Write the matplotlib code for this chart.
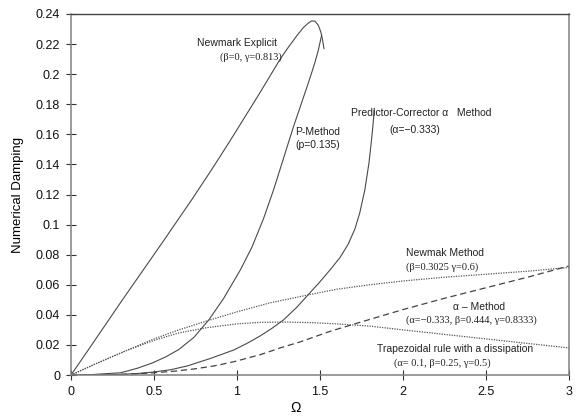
import matplotlib
matplotlib.use("Agg")
import matplotlib.pyplot as plt
from matplotlib.ticker import FixedLocator

# ---- data -----------------------------------------------------------------
# Newmark explicit (solid)
nme_omega = [0, 0.1, 0.31, 0.55, 0.73, 0.85, 0.96, 1.05, 1.14, 1.2, 1.26, 1.31, 1.36,
             1.40, 1.43, 1.45, 1.47, 1.49, 1.505, 1.515, 1.524]
nme_damp = [0, 0.016, 0.050, 0.088, 0.117, 0.137, 0.156, 0.172, 0.188, 0.199, 0.210, 0.218,
            0.2255, 0.231, 0.234, 0.2354, 0.2352, 0.2325, 0.228, 0.223, 0.217]

# P-method (solid)
pm_omega = [0, 0.1, 0.3, 0.4, 0.49, 0.57, 0.65, 0.74, 0.83, 0.92, 1.02, 1.09, 1.16, 1.22,
            1.28, 1.34, 1.38, 1.42, 1.45, 1.47, 1.49, 1.50, 1.51]
pm_damp = [0, 0.0001, 0.0015, 0.0045, 0.008, 0.012, 0.017, 0.025, 0.0366, 0.051, 0.0698,
           0.085, 0.104, 0.123, 0.144, 0.165, 0.178, 0.191, 0.201, 0.208, 0.216, 0.221, 0.226]

# Predictor-corrector alpha method (solid)
pc_omega = [0, 0.2, 0.3, 0.4, 0.5, 0.6, 0.7, 0.84, 0.98, 1.06, 1.14, 1.21, 1.28, 1.36, 1.44,
            1.50, 1.56, 1.62, 1.67, 1.71, 1.74, 1.77, 1.795, 1.81, 1.82, 1.827]
pc_damp = [0, 0.0001, 0.0004, 0.001, 0.002, 0.0035, 0.006, 0.011, 0.0166, 0.021, 0.026,
           0.031, 0.0366, 0.045, 0.0547, 0.062, 0.0698, 0.078, 0.087, 0.097, 0.108, 0.123,
           0.141, 0.156, 0.167, 0.177]

# Newmark method (dotted)
nm_omega = [0, 0.15, 0.34, 0.5, 0.65, 0.82, 1.0, 1.2, 1.44, 1.6, 1.8, 2.0, 2.25, 2.5, 2.75, 3.0]
nm_damp = [0, 0.0075, 0.0166, 0.024, 0.030, 0.036, 0.042, 0.048, 0.0535, 0.057, 0.060,
           0.0625, 0.065, 0.067, 0.069, 0.0715]

# alpha method (dashed)
am_omega = [0, 0.2, 0.4, 0.5, 0.62, 0.74, 0.86, 0.98, 1.14, 1.26, 1.38, 1.56, 1.74, 2.0,
            2.25, 2.5, 2.75, 3.0]
am_damp = [0, 0.0001, 0.0008, 0.0015, 0.0025, 0.004, 0.006, 0.0088, 0.0135, 0.018, 0.022,
           0.029, 0.035, 0.0435, 0.051, 0.058, 0.065, 0.0725]

# Trapezoidal rule with dissipation (dotted)
tr_omega = [0, 0.15, 0.34, 0.5, 0.65, 0.82, 1.0, 1.14, 1.3, 1.45, 1.6, 1.8, 2.0, 2.25, 2.5,
            2.75, 3.0]
tr_damp = [0, 0.0075, 0.0165, 0.023, 0.028, 0.0315, 0.034, 0.035, 0.0352, 0.0348, 0.034,
           0.0325, 0.030, 0.027, 0.024, 0.021, 0.018]

x_ticks = [0, 0.5, 1, 1.5, 2, 2.5, 3]
x_tick_labels = ["0", "0.5", "1", "1.5", "2", "2.5", "3"]
y_ticks = [0, 0.02, 0.04, 0.06, 0.08, 0.1, 0.12, 0.14, 0.16, 0.18, 0.2, 0.22, 0.24]
y_tick_labels = ["0", "0.02", "0.04", "0.06", "0.08", "0.1", "0.12", "0.14", "0.16",
                 "0.18", "0.2", "0.22", "0.24"]

SANS = ["Liberation Sans", "DejaVu Sans"]
SERIF = ["Liberation Serif", "DejaVu Serif"]
plt.rcParams["font.family"] = SANS

# ---- figure ---------------------------------------------------------------
fig = plt.figure(figsize=(5.77, 4.16), dpi=100)
ax = fig.add_axes([71 / 577, 41 / 416, 498 / 577, 361 / 416])

line_col = "#4a4a4a"
ax.plot(nme_omega, nme_damp, color=line_col, lw=0.8)
ax.plot(pm_omega, pm_damp, color=line_col, lw=0.8)
ax.plot(pc_omega, pc_damp, color=line_col, lw=0.8)
ax.plot(nm_omega, nm_damp, color="#555555", lw=0.9, linestyle=(0, (1, 1)))
ax.plot(tr_omega, tr_damp, color="#555555", lw=0.9, linestyle=(0, (1, 1)))
ax.plot(am_omega, am_damp, color="#444444", lw=0.9, linestyle=(0, (5, 3)))

ax.set_xlim(0, 3)
ax.set_ylim(0, 0.24)
ax.xaxis.set_major_locator(FixedLocator(x_ticks))
ax.set_xticklabels(x_tick_labels)
ax.yaxis.set_major_locator(FixedLocator(y_ticks))
ax.set_yticklabels(y_tick_labels)
ax.tick_params(axis="both", direction="inout", length=6.5, width=0.8,
               color="#333333", labelsize=9, labelcolor="#111111")
ax.tick_params(axis="y", pad=4.5)
ax.tick_params(axis="x", pad=5)

for side in ["left", "bottom", "right"]:
    ax.spines[side].set_color("#808080")
    ax.spines[side].set_linewidth(1.1)
ax.spines["top"].set_color("#444444")
ax.spines["top"].set_linewidth(1.0)

ax.set_ylabel("Numerical Damping", fontsize=9.5, va="center")
ax.yaxis.set_label_coords((18 - 71) / 498, 0.5)
ax.set_xlabel("\u03a9", fontsize=10, va="center")
ax.xaxis.set_label_coords((296 - 71) / 498, (375 - 408) / 361)

# ---- annotations ----------------------------------------------------------
fs = 7.5
tc = "#222222"
ax.text(1.0, 0.2205, "Newmark Explicit", fontsize=fs, ha="center", va="center", color=tc)
ax.text(1.084, 0.2114, "(\u03b2=0, \u03b3=0.813)", fontsize=fs, ha="center", va="center",
        family=SERIF, color=tc)
ax.text(1.349, 0.1616, "P-Method", fontsize=fs, ha="left", va="center", color=tc)
ax.text(1.349, 0.1526, "(p=0.135)", fontsize=fs, ha="left", va="center", color=tc)
ax.text(2.108, 0.1742, "Predictor-Corrector \u03b1   Method", fontsize=fs, ha="center",
        va="center", color=tc)
ax.text(2.072, 0.1626, "(\u03b1=\u22120.333)", fontsize=fs, ha="center", va="center", color=tc)
ax.text(2.251, 0.0811, "Newmak Method", fontsize=fs, ha="center", va="center", color=tc)
ax.text(2.235, 0.0718, "(\u03b2=0.3025 \u03b3=0.6)", fontsize=fs, ha="center", va="center",
        family=SERIF, color=tc)
ax.text(2.458, 0.0452, "\u03b1 \u2013 Method", fontsize=fs, ha="center", va="center", color=tc)
ax.text(2.414, 0.0366, "(\u03b1=\u22120.333, \u03b2=0.444, \u03b3=0.8333)", fontsize=fs,
        ha="center", va="center", family=SERIF, color=tc)
ax.text(2.313, 0.0173, "Trapezoidal rule with a dissipation", fontsize=fs, ha="center",
        va="center", color=tc)
ax.text(2.235, 0.008, "(\u03b1= 0.1, \u03b2=0.25, \u03b3=0.5)", fontsize=fs, ha="center",
        va="center", family=SERIF, color=tc)

fig.savefig("out.png", dpi=100, facecolor="white")
plt.close(fig)
